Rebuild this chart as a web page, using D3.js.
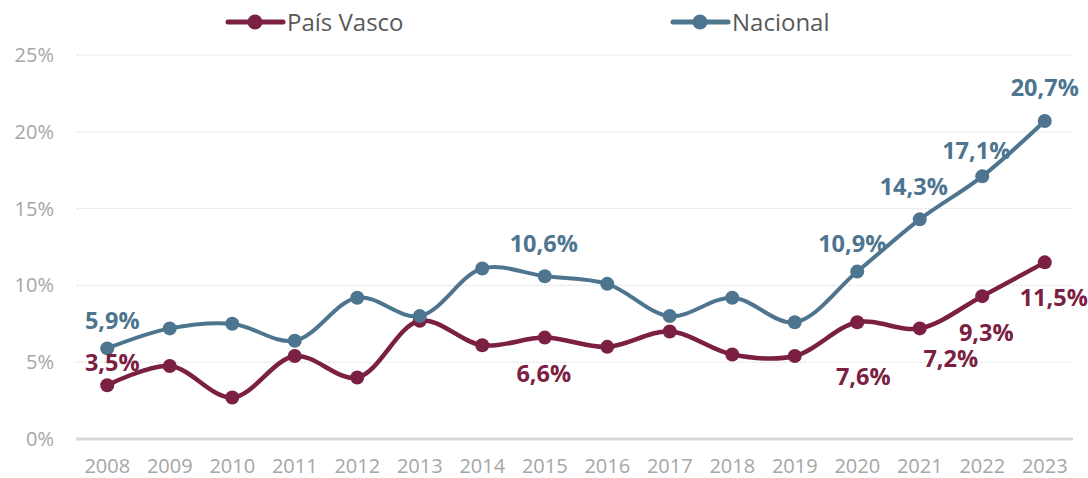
<!DOCTYPE html>
<html>
<head>
<meta charset="utf-8">
<script src="https://cdn.jsdelivr.net/npm/d3@7"></script>
<style>
  body { margin: 0; background: #fff; }
  svg { display: block; font-family: "Open Sans", "Liberation Sans", sans-serif; }
</style>
</head>
<body>
<script>
// data
const years = ['2008', '2009', '2010', '2011', '2012', '2013', '2014', '2015',
    '2016', '2017', '2018', '2019', '2020', '2021', '2022', '2023'];
const paisVasco = [3.5, 4.75, 2.7, 5.4, 4.0, 7.7, 6.1, 6.6, 6.0, 7.0, 5.5, 5.4, 7.6, 7.2, 9.3, 11.5];
const nacional = [5.9, 7.2, 7.5, 6.4, 9.2, 8.0, 11.1, 10.6, 10.1, 8.0, 9.2, 7.6, 10.9, 14.3, 17.1, 20.7];
const yTicks = [0, 5, 10, 15, 20, 25];
// which points carry a data label
const pvLabelled = ['2008', '2015', '2020', '2021', '2022', '2023'];
const naLabelled = ['2008', '2015', '2020', '2021', '2022', '2023'];

// label offsets relative to the point (pixels)
const pvOffsets = {'2008': [5, -23], '2015': [-1, 36], '2020': [6, 54], '2021': [31, 30], '2022': [4, 36], '2023': [9, 35]};
const naOffsets = {'2008': [5, -28], '2015': [-1, -33], '2020': [-5, -28], '2021': [-6, -33], '2022': [-6, -26], '2023': [0, -34]};

const width = 1088, height = 478;
const margin = {left: 76, right: 12, top: 55, bottom: 39};

const svg = d3.select('body').append('svg')
    .attr('width', width)
    .attr('height', height);

const x = d3.scaleBand().domain(years).range([margin.left, width - margin.right]);
const y = d3.scaleLinear().domain([0, 25]).range([height - margin.bottom, margin.top]);
const cx = (yr) => x(yr) + x.bandwidth() / 2;

// gridlines
svg.append('g').selectAll('line').data(yTicks.filter(t => t > 0)).enter()
    .append('line')
    .attr('x1', margin.left).attr('x2', width - margin.right - 3)
    .attr('y1', d => y(d)).attr('y2', d => y(d))
    .attr('stroke', '#e4e4e4').attr('stroke-width', 1).attr('stroke-dasharray', '3,1');

// baseline
svg.append('line')
    .attr('x1', margin.left).attr('x2', width - margin.right - 3)
    .attr('y1', y(0)).attr('y2', y(0))
    .attr('stroke', '#d9d9d9').attr('stroke-width', 3);

// y axis labels
svg.append('g').selectAll('text').data(yTicks).enter()
    .append('text')
    .attr('x', 54).attr('y', d => y(d))
    .attr('dy', '0.35em')
    .attr('text-anchor', 'end')
    .attr('fill', '#a6a6a6').attr('font-size', 20)
    .text(d => d + '%');

// x axis labels
svg.append('g').selectAll('text').data(years).enter()
    .append('text')
    .attr('x', d => cx(d)).attr('y', 473)
    .attr('text-anchor', 'middle')
    .attr('fill', '#a6a6a6').attr('font-size', 20)
    .text(d => d);

const line = d3.line()
    .x(d => cx(d.year))
    .y(d => y(d.value))
    .curve(d3.curveCatmullRom.alpha(0.5));

const series = [
    {name: 'País Vasco', values: paisVasco, color: '#7b2042', width: 4.5, labelled: pvLabelled, offsets: pvOffsets},
    {name: 'Nacional', values: nacional, color: '#4d758f', width: 4, labelled: naLabelled, offsets: naOffsets}
];

series.forEach(s => {
    const pts = years.map((yr, i) => ({year: yr, value: s.values[i]}));
    const g = svg.append('g');
    g.append('path').datum(pts)
        .attr('d', line)
        .attr('fill', 'none')
        .attr('stroke', s.color)
        .attr('stroke-width', s.width)
        .attr('stroke-linecap', 'round');
    g.selectAll('circle').data(pts).enter()
        .append('circle')
        .attr('cx', d => cx(d.year))
        .attr('cy', d => y(d.value))
        .attr('r', 7)
        .attr('fill', s.color);
    s.pts = pts;
});

// data labels on top
series.forEach(s => {
    svg.append('g').selectAll('text').data(s.pts.filter(d => s.labelled.includes(d.year))).enter()
        .append('text')
        .attr('x', d => cx(d.year) + s.offsets[d.year][0])
        .attr('y', d => y(d.value) + s.offsets[d.year][1])
        .attr('dy', '0.36em')
        .attr('text-anchor', 'middle')
        .attr('fill', s.color)
        .attr('font-size', 23.5)
        .attr('font-weight', 'bold')
        .text(d => d.value.toFixed(1).replace('.', ',') + '%');
});

// legend
const legendItems = [
    {name: 'País Vasco', color: '#7b2042', x: 228},
    {name: 'Nacional', color: '#4d758f', x: 673}
];
const lg = svg.append('g').selectAll('g').data(legendItems).enter()
    .append('g')
    .attr('transform', d => `translate(${d.x},22)`);
lg.append('line')
    .attr('x1', 0).attr('x2', 55)
    .attr('stroke', d => d.color).attr('stroke-width', 5)
    .attr('stroke-linecap', 'round');
lg.append('circle')
    .attr('cx', 27).attr('r', 7.5)
    .attr('fill', d => d.color);
lg.append('text')
    .attr('x', 59).attr('dy', '0.36em')
    .attr('fill', '#595959').attr('font-size', 24)
    .text(d => d.name);
</script>
</body>
</html>
